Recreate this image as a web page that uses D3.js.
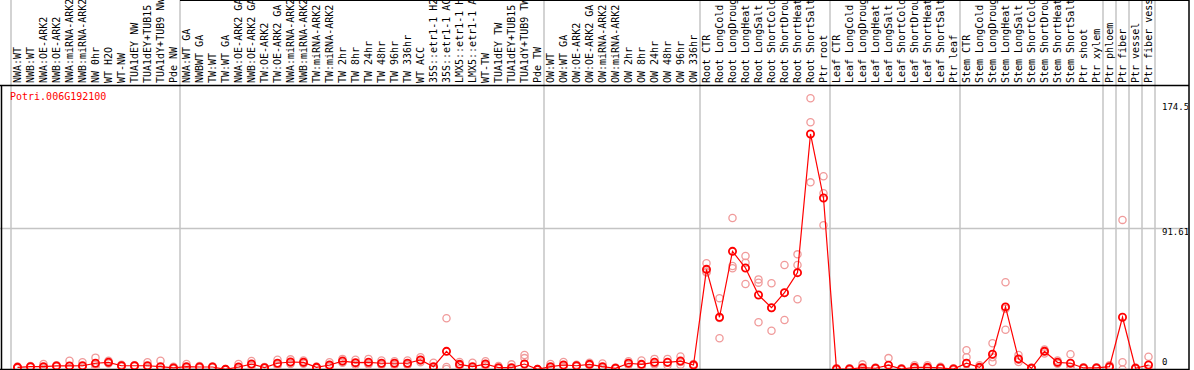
<!DOCTYPE html>
<html>
<head>
<meta charset="utf-8">
<script src="https://cdn.jsdelivr.net/npm/d3@7"></script>
<style>
  html, body { margin: 0; padding: 0; background: #fff; }
  svg { display: block; }
  text { font-family: "DejaVu Sans Mono", monospace; font-size: 10px; }
</style>
</head>
<body>
<svg id="chart" width="1194" height="370"></svg>
<script>
// sample names, in display order
var categories = [
    "NWA:WT", "NWB:WT", "NWA:OE-ARK2", "NWB:OE-ARK2", "NWA:miRNA-ARK2", "NWB:miRNA-ARK2", "NW 0hr", "WT H2O", "WT-NW",
    "TUA1dEY NW", "TUA1dEY+TUB15 NW", "TUA1dY+TUB9 NW", "Pde NW",
    "NWA:WT GA", "NWBWT GA", "TW:WT", "TW:WT GA", "NWA:OE-ARK2 GA", "NWB:OE-ARK2 GA", "TW:OE-ARK2", "TW:OE-ARK2 GA",
    "NWA:miRNA-ARK2 GA", "NWB:miRNA-ARK2 GA", "TW:miRNA-ARK2", "TW:miRNA-ARK2 GA", "TW 2hr", "TW 8hr", "TW 24hr",
    "TW 48hr", "TW 96hr", "TW 336hr", "WT ACC", "35S::etr1-1 H2O", "35S::etr1-1 ACC", "LMX5::etr1-1 H2O",
    "LMX5::etr1-1 ACC", "WT-TW", "TUA1dEY TW", "TUA1dEY+TUB15 TW", "TUA1dY+TUB9 TW", "Pde TW",
    "OW:WT", "OW:WT GA", "OW:OE-ARK2", "OW:OE-ARK2 GA", "OW:miRNA-ARK2", "OW:miRNA-ARK2 GA", "OW 2hr", "OW 8hr",
    "OW 24hr", "OW 48hr", "OW 96hr", "OW 336hr",
    "Root CTR", "Root LongCold", "Root LongDrought", "Root LongHeat", "Root LongSalt", "Root ShortCold",
    "Root ShortDrought", "Root ShortHeat", "Root ShortSalt", "Ptr root",
    "Leaf CTR", "Leaf LongCold", "Leaf LongDrought", "Leaf LongHeat", "Leaf LongSalt", "Leaf ShortCold",
    "Leaf ShortDrought", "Leaf ShortHeat", "Leaf ShortSalt", "Ptr leaf",
    "Stem CTR", "Stem LongCold", "Stem LongDrought", "Stem LongHeat", "Stem LongSalt", "Stem ShortCold",
    "Stem ShortDrought", "Stem ShortHeat", "Stem ShortSalt", "Ptr shoot", "Ptr xylem",
    "Ptr phloem", "Ptr fiber", "Ptr vessel", "Ptr fiber vessel"
];

// number of samples in each group (separated by grey lines)
var groupSizes = [13, 28, 12, 10, 10, 11, 1, 1, 1, 1];

// mean expression per sample
var meanValues = [
    2.6, 3.0, 3.0, 3.5, 3.5, 3.6, 5.2, 5.8, 3.6, 3.6, 3.6, 3.0, 2.2,
    3.0, 2.8, 2.8, 1.3, 2.8, 4.7, 2.4, 5.2, 6.0, 5.8, 2.6, 4.1, 6.6, 5.6, 5.8, 5.2, 5.2, 5.2, 7.3, 3.0,
    12.8, 4.5, 3.0, 4.7, 2.4, 2.4, 4.7, 1.3,
    3.0, 4.1, 3.6, 4.5, 3.0, 2.0, 5.2, 4.5, 5.8, 5.8, 6.6, 4.1,
    65.2, 34.6, 76.7, 66.1, 48.8, 40.7, 50.3, 63.1, 151.7, 110.8,
    1.5, 1.5, 2.4, 2.0, 4.0, 1.5, 2.6, 2.6, 2.2, 1.5,
    5.2, 2.6, 11.0, 41.2, 8.0, 2.0, 12.8, 5.8, 5.2, 2.2, 2.2,
    3.0, 34.6, 2.0, 4.1
];

// individual replicates per sample
var replicateValues = [
    [2.0, 3.2, 2.6], [2.5, 3.5, 3.0], [4.7, 2.5, 1.8], [3.5, 3.0, 4.0], [6.8, 2.0, 1.7], [5.8, 2.5, 2.5],
    [8.8, 4.2, 2.6], [6.8, 5.5, 5.1], [3.6, 3.0, 4.2], [3.6, 3.2, 4.0], [5.8, 2.5, 2.5], [6.8, 1.2, 1.0],
    [2.2, 1.5, 2.9],
    [4.7, 2.2, 2.1], [2.8, 2.2, 3.4], [2.8, 2.4, 3.2], [1.3, 1.0, 1.6], [4.7, 1.9, 1.8], [6.6, 4.0, 3.5],
    [2.4, 2.0, 2.8], [7.5, 4.5, 3.6], [7.7, 5.5, 4.8], [7.0, 5.5, 4.9], [2.6, 2.0, 3.2], [5.8, 3.5, 3.0],
    [8.0, 6.2, 5.6], [7.5, 5.0, 4.3], [8.0, 5.0, 4.4], [7.0, 4.5, 4.1], [6.5, 5.0, 4.1], [7.0, 4.5, 4.1],
    [9.0, 7.0, 5.9], [5.5, 2.0, 1.5], [34.0, 2.8, 1.6], [6.0, 4.0, 3.5], [5.5, 2.0, 1.5], [6.5, 4.0, 3.6],
    [3.5, 2.0, 1.7], [4.5, 1.5, 1.2], [10.5, 8.5, 0.2], [1.3, 1.0, 1.6],
    [4.7, 2.5, 1.8], [6.0, 3.5, 2.8], [3.6, 3.0, 4.2], [5.5, 4.0, 4.0], [5.0, 2.0, 2.0], [2.0, 1.5, 2.5],
    [6.5, 5.0, 4.1], [7.0, 4.0, 2.5], [8.0, 5.0, 4.4], [8.0, 5.5, 3.9], [9.5, 6.0, 4.3], [4.1, 3.5, 4.7],
    [69.1, 63.7, 63.2], [46.8, 21.2, 34.1], [98.0, 67.3, 65.9], [73.7, 69.5, 55.8], [58.8, 56.7, 31.4],
    [56.3, 26.0, 40.5], [68.0, 32.8, 50.1], [74.8, 68.0, 46.1], [174.5, 159.2, 120.8], [124.7, 113.8, 93.4],
    [1.5, 1.0, 2.0], [1.5, 1.0, 2.0], [4.5, 1.5, 1.2], [2.0, 1.5, 2.5], [8.5, 2.0, 1.5], [1.5, 1.0, 2.0],
    [4.0, 2.0, 1.8], [4.0, 2.0, 1.8], [3.0, 1.8, 1.8], [1.5, 1.0, 2.0],
    [9.0, 13.5, 0.5], [4.0, 2.0, 1.8], [18.0, 9.0, 6.0], [57.0, 40.0, 26.6], [10.5, 7.5, 6.0], [2.0, 1.5, 2.5],
    [14.0, 13.0, 11.4], [7.0, 5.5, 4.9], [11.0, 3.0, 1.6], [2.2, 1.8, 2.6], [2.2, 1.8, 2.6],
    [4.0, 2.5, 2.5], [96.8, 5.8, 1.2], [2.0, 1.5, 2.5], [9.4, 1.5, 1.4]
];

// values written on the right edge
var axisLabels = [174.5, 91.61, 0];
var gridValues = [91.61];

var geneName = "Potri.006G192100";

var width = 1194;
var height = 370;
var plot = { left: 11, right: 1189, header: 85, bottom: 369 };

var svg = d3.select("#chart");

var x = d3.scaleBand()
    .domain(d3.range(categories.length + 1))
    .range([plot.left, plot.left + (categories.length + 1) * 13])
    .padding(0);

var y = d3.scaleLinear()
    .domain([0, 174.5])
    .range([371.4, 98.3]);

var cx = function (i) { return x(i) + x.bandwidth() / 2; };

// group separators
var groupStarts = [0];
groupSizes.forEach(function (n, k) { groupStarts.push(groupStarts[k] + n); });

svg.append("g")
    .attr("stroke", "#c4c4c4")
    .attr("stroke-width", 1.5)
    .selectAll("line")
    .data(groupStarts)
    .join("line")
    .attr("x1", function (d) { return x(d); })
    .attr("x2", function (d) { return x(d); })
    .attr("y1", 0)
    .attr("y2", plot.bottom);

// horizontal grid line
svg.append("g")
    .attr("stroke", "#c4c4c4")
    .attr("stroke-width", 1.5)
    .selectAll("line")
    .data(gridValues)
    .join("line")
    .attr("x1", 0)
    .attr("x2", plot.right)
    .attr("y1", function (d) { return Math.round(y(d)) + 0.5; })
    .attr("y2", function (d) { return Math.round(y(d)) + 0.5; });

// header labels, rotated
svg.append("g")
    .selectAll("text")
    .data(categories)
    .join("text")
    .attr("transform", function (d, i) { return "translate(" + (x(i) + 10) + "," + 83 + ") rotate(-90)"; })
    .attr("fill", "#000")
    .text(function (d) { return d; });

// frame
svg.append("line").attr("x1", 0).attr("x2", plot.right).attr("y1", plot.header + 0.5).attr("y2", plot.header + 0.5)
    .attr("stroke", "#000").attr("stroke-width", 1.5);
svg.append("line").attr("x1", 1.5).attr("x2", 1.5).attr("y1", plot.header).attr("y2", height)
    .attr("stroke", "#000").attr("stroke-width", 1.5);
svg.append("line").attr("x1", plot.right).attr("x2", plot.right).attr("y1", 0).attr("y2", height)
    .attr("stroke", "#000").attr("stroke-width", 1.5);
svg.append("line").attr("x1", 0).attr("x2", plot.right).attr("y1", plot.bottom + 0.5).attr("y2", plot.bottom + 0.5)
    .attr("stroke", "#000").attr("stroke-width", 1.5);
svg.append("line").attr("x1", 180).attr("x2", plot.right).attr("y1", 0.5).attr("y2", 0.5)
    .attr("stroke", "#000").attr("stroke-width", 1);

// right axis labels, clipped at the frame
svg.append("clipPath").attr("id", "axisClip")
    .append("rect").attr("x", 0).attr("y", 0).attr("width", plot.right - 1).attr("height", height);

svg.append("g")
    .attr("clip-path", "url(#axisClip)")
    .selectAll("text")
    .data(axisLabels)
    .join("text")
    .attr("x", 1162)
    .attr("y", function (d) { return Math.min(Math.max(y(d), 103), 358); })
    .attr("dy", "0.8em")
    .attr("fill", "#000")
    .style("font-size", "9px")
    .text(function (d) { return d; });

// gene name
svg.append("text")
    .attr("x", 10)
    .attr("y", 100)
    .attr("fill", "#ff0000")
    .text(geneName);

svg.append("clipPath").attr("id", "plotClip")
    .append("rect").attr("x", 2).attr("y", plot.header + 1).attr("width", plot.right - 3).attr("height", plot.bottom - plot.header - 1);

var marks = svg.append("g").attr("clip-path", "url(#plotClip)");

// replicate points
var reps = [];
replicateValues.forEach(function (arr, i) {
    arr.forEach(function (v) { reps.push({ i: i, v: v }); });
});

marks.append("g")
    .attr("fill", "none")
    .attr("stroke", "#f09a9a")
    .attr("stroke-width", 1.3)
    .selectAll("circle")
    .data(reps)
    .join("circle")
    .attr("cx", function (d) { return cx(d.i); })
    .attr("cy", function (d) { return y(d.v); })
    .attr("r", 3.6);

// mean line
marks.append("path")
    .datum(meanValues)
    .attr("fill", "none")
    .attr("stroke", "#ff0000")
    .attr("stroke-width", 1.2)
    .attr("d", d3.line()
        .x(function (d, i) { return cx(i); })
        .y(function (d) { return y(d); }));

// mean points
marks.append("g")
    .attr("fill", "none")
    .attr("stroke", "#ff0000")
    .attr("stroke-width", 1.8)
    .selectAll("circle")
    .data(meanValues)
    .join("circle")
    .attr("cx", function (d, i) { return cx(i); })
    .attr("cy", function (d) { return y(d); })
    .attr("r", 3.6);
</script>
</body>
</html>
